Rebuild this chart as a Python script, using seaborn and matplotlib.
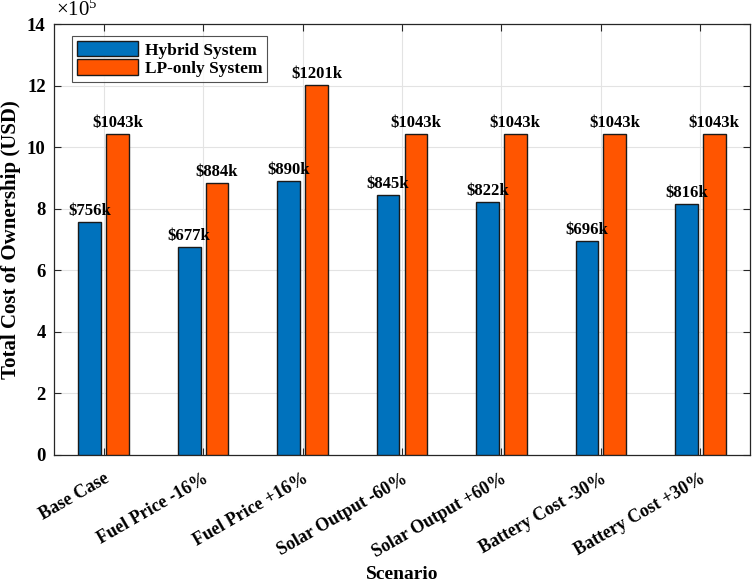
import matplotlib
matplotlib.use("Agg")
import matplotlib.pyplot as plt
import seaborn as sns
import pandas as pd

scenarios = ["Base Case", "Fuel Price -16%", "Fuel Price +16%", "Solar Output -60%",
             "Solar Output +60%", "Battery Cost -30%", "Battery Cost +30%"]
hybrid_k = [756, 677, 890, 845, 822, 696, 816]
lp_k = [1043, 884, 1201, 1043, 1043, 1043, 1043]
series_names = ["Hybrid System", "LP-only System"]
yticks = [0, 2, 4, 6, 8, 10, 12, 14]

sns.set_theme(style="whitegrid")
plt.rcParams['font.family'] = ['Liberation Serif', 'DejaVu Serif']
plt.rcParams['mathtext.fontset'] = 'custom'
plt.rcParams['mathtext.rm'] = 'Liberation Serif'
for k in ['text.color', 'axes.labelcolor', 'xtick.color', 'ytick.color']:
    plt.rcParams[k] = 'black'

df = pd.DataFrame({
    "Scenario": scenarios * 2,
    "Value": [v / 100 for v in hybrid_k] + [v / 100 for v in lp_k],
    "System": [series_names[0]] * len(scenarios) + [series_names[1]] * len(scenarios),
})

fig = plt.figure(figsize=(7.54, 5.83), dpi=100)
ax = fig.add_axes([0.0716, 0.2196, 0.9231, 0.7392])
ax.set_facecolor("white")

sns.barplot(data=df, x="Scenario", y="Value", hue="System", ax=ax,
            palette=["#0072BD", "#FF5500"], width=0.56, gap=0.18,
            edgecolor="#1a1a1a", linewidth=1.0, saturation=1, errorbar=None,
            zorder=3)

for cont, vals in zip(ax.containers, [hybrid_k, lp_k]):
    ax.bar_label(cont, labels=[f"${v}k" for v in vals], padding=2,
                 fontsize=12, fontweight="bold", color="black")

ax.set_xlim(-0.5, len(scenarios) - 0.5)
ax.set_ylim(0, 14)
ax.set_yticks(yticks)
ax.set_yticklabels([str(t) for t in yticks], fontsize=13.5, fontweight="bold")
ax.set_xticks(range(len(scenarios)))
ax.set_xticklabels(scenarios, rotation=30, ha="right", rotation_mode="anchor",
                   fontsize=13, fontweight="bold")
ax.tick_params(axis="both", direction="in", length=5, width=0.8, color="#262626",
               top=True, right=True, left=True, bottom=True)
ax.tick_params(axis="x", pad=11)
ax.tick_params(axis="y", pad=6)
ax.set_xlabel("Scenario", fontsize=14, fontweight="bold")
ax.xaxis.set_label_coords(0.5, -0.258)
ax.set_ylabel("Total Cost of Ownership (USD)", fontsize=15, fontweight="bold", labelpad=4)

ax.grid(True, color="#e3e3e3", linewidth=0.8, zorder=0)
ax.set_axisbelow(True)
for sp in ax.spines.values():
    sp.set_visible(True)
    sp.set_color("#262626")
    sp.set_linewidth(0.9)

ax.text(0.003, 1.008, r"$\times\mathregular{10^{5}}$", transform=ax.transAxes,
        fontsize=15, ha="left", va="bottom")

leg = ax.legend(loc="upper left", bbox_to_anchor=(0.018, 0.985), fontsize=12.5,
                frameon=True, fancybox=False, edgecolor="#262626",
                handlelength=3.5, handleheight=1.0, borderpad=0.3,
                labelspacing=0.05, handletextpad=0.4, borderaxespad=0.3)
for t in leg.get_texts():
    t.set_fontweight("bold")
leg.get_frame().set_linewidth(0.8)

fig.savefig("out.png", dpi=100)
